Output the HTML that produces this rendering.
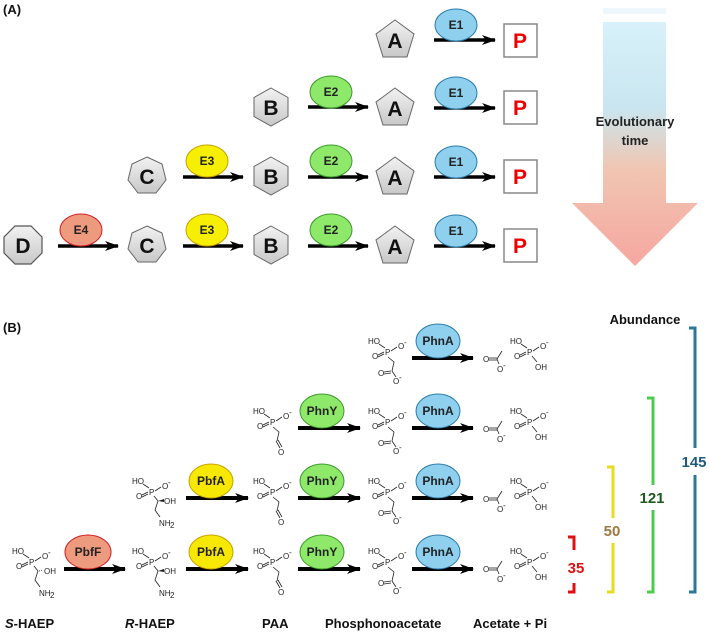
<!DOCTYPE html>
<html><head><meta charset="utf-8"><style>
html,body{margin:0;padding:0;background:#fff;}
svg{display:block;font-family:"Liberation Sans",sans-serif;}
.m text{font-size:8px;fill:#222;}
.m line,.m polyline{stroke:#222;stroke-width:0.8;fill:none;}
.lbl{font-weight:bold;font-size:13px;fill:#111;}
.enz{font-weight:bold;font-size:12px;fill:#222;text-anchor:middle;}
.shp{font-weight:bold;font-size:21px;fill:#111;text-anchor:middle;}
</style></head><body>
<svg width="709" height="636" viewBox="0 0 709 636" xmlns="http://www.w3.org/2000/svg">
<defs>
<linearGradient id="tg" x1="0" y1="0" x2="0" y2="1">
<stop offset="0" stop-color="#d8f1fa"/><stop offset="0.35" stop-color="#c9e6f0"/><stop offset="0.6" stop-color="#f0c6b2"/><stop offset="1" stop-color="#f6a6a0"/>
</linearGradient>
<linearGradient id="gs" x1="0" y1="0" x2="0" y2="1"><stop offset="0" stop-color="#f2f2f2"/><stop offset="1" stop-color="#c8c8c8"/></linearGradient>
<marker id="ah" markerWidth="14" markerHeight="10" refX="13" refY="5" orient="auto" markerUnits="userSpaceOnUse"><path d="M0,0 L14,5 L0,10 L4,5 Z" fill="#000"/></marker>
</defs>
<text x="3" y="14" class="lbl" font-size="12">(A)</text>
<text x="3" y="332" class="lbl" font-size="12">(B)</text>

<rect x="603" y="8" width="63" height="6" fill="#eef8fc"/>
<path d="M603,22 L666,22 L666,203 L698,203 L635,266 L572,203 L603,203 Z" fill="url(#tg)"/>
<text x="635" y="126" text-anchor="middle" font-size="13" font-weight="bold" fill="#222">Evolutionary</text>
<text x="635" y="145" text-anchor="middle" font-size="13" font-weight="bold" fill="#222">time</text>

<g>
<polygon points="395,20 414,34 407,57 383,57 376,34" fill="url(#gs)" stroke="#666"/><text x="395" y="48" class="shp">A</text>
<line x1="434" y1="40" x2="495" y2="40" stroke="#000" stroke-width="3.5" marker-end="url(#ah)"/>
<ellipse cx="456" cy="25" rx="21" ry="16" fill="#8fd0ee" stroke="#2a7aa8"/><text x="456" y="29" class="enz">E1</text>
<rect x="504" y="24" width="33" height="33" fill="#fff" stroke="#888" stroke-width="1.5"/><text x="520" y="48" class="shp" style="fill:#e00">P</text>

<polygon points="271,88 288,97.5 288,116.5 271,126 254,116.5 254,97.5" fill="url(#gs)" stroke="#666"/><text x="271" y="115" class="shp">B</text>
<line x1="308" y1="107" x2="368" y2="107" stroke="#000" stroke-width="3.5" marker-end="url(#ah)"/>
<ellipse cx="331" cy="92" rx="21" ry="16" fill="#8ee86a" stroke="#3a9a2a"/><text x="331" y="96" class="enz">E2</text>
<polygon points="395,88 414,102 407,125 383,125 376,102" fill="url(#gs)" stroke="#666"/><text x="395" y="116" class="shp">A</text>
<line x1="434" y1="108" x2="495" y2="108" stroke="#000" stroke-width="3.5" marker-end="url(#ah)"/>
<ellipse cx="456" cy="93" rx="21" ry="16" fill="#8fd0ee" stroke="#2a7aa8"/><text x="456" y="97" class="enz">E1</text>
<rect x="504" y="91" width="33" height="33" fill="#fff" stroke="#888" stroke-width="1.5"/><text x="520" y="115" class="shp" style="fill:#e00">P</text>

<polygon points="147,157 162,164 166,180 156,193 138,193 128,180 132,164" fill="url(#gs)" stroke="#666"/><text x="147" y="184" class="shp">C</text>
<line x1="183" y1="177" x2="243" y2="177" stroke="#000" stroke-width="3.5" marker-end="url(#ah)"/>
<ellipse cx="207" cy="161" rx="21" ry="16" fill="#f6f000" stroke="#c8a000"/><text x="207" y="165" class="enz">E3</text>
<polygon points="271,157 288,166.5 288,185.5 271,195 254,185.5 254,166.5" fill="url(#gs)" stroke="#666"/><text x="271" y="184" class="shp">B</text>
<line x1="308" y1="177" x2="368" y2="177" stroke="#000" stroke-width="3.5" marker-end="url(#ah)"/>
<ellipse cx="331" cy="161" rx="21" ry="16" fill="#8ee86a" stroke="#3a9a2a"/><text x="331" y="165" class="enz">E2</text>
<polygon points="395,157 414,171 407,194 383,194 376,171" fill="url(#gs)" stroke="#666"/><text x="395" y="185" class="shp">A</text>
<line x1="434" y1="177" x2="495" y2="177" stroke="#000" stroke-width="3.5" marker-end="url(#ah)"/>
<ellipse cx="456" cy="162" rx="21" ry="16" fill="#8fd0ee" stroke="#2a7aa8"/><text x="456" y="166" class="enz">E1</text>
<rect x="504" y="160" width="33" height="33" fill="#fff" stroke="#888" stroke-width="1.5"/><text x="520" y="184" class="shp" style="fill:#e00">P</text>

<polygon points="15,226 31,226 42,237 42,253 31,264 15,264 4,253 4,237" fill="url(#gs)" stroke="#555" stroke-width="1.2"/><text x="23" y="253" class="shp">D</text>
<line x1="58" y1="246" x2="118" y2="246" stroke="#000" stroke-width="3.5" marker-end="url(#ah)"/>
<ellipse cx="81" cy="230" rx="21" ry="16" fill="#ee9a7e" stroke="#d02020"/><text x="81" y="234" class="enz">E4</text>
<polygon points="147,226 162,233 166,249 156,262 138,262 128,249 132,233" fill="url(#gs)" stroke="#666"/><text x="147" y="253" class="shp">C</text>
<line x1="183" y1="246" x2="243" y2="246" stroke="#000" stroke-width="3.5" marker-end="url(#ah)"/>
<ellipse cx="207" cy="230" rx="21" ry="16" fill="#f6f000" stroke="#c8a000"/><text x="207" y="234" class="enz">E3</text>
<polygon points="271,226 288,235.5 288,254.5 271,264 254,254.5 254,235.5" fill="url(#gs)" stroke="#666"/><text x="271" y="253" class="shp">B</text>
<line x1="308" y1="246" x2="368" y2="246" stroke="#000" stroke-width="3.5" marker-end="url(#ah)"/>
<ellipse cx="331" cy="230" rx="21" ry="16" fill="#8ee86a" stroke="#3a9a2a"/><text x="331" y="234" class="enz">E2</text>
<polygon points="395,226 414,240 407,263 383,263 376,240" fill="url(#gs)" stroke="#666"/><text x="395" y="254" class="shp">A</text>
<line x1="434" y1="246" x2="495" y2="246" stroke="#000" stroke-width="3.5" marker-end="url(#ah)"/>
<ellipse cx="456" cy="231" rx="21" ry="16" fill="#8fd0ee" stroke="#2a7aa8"/><text x="456" y="235" class="enz">E1</text>
<rect x="504" y="229" width="33" height="33" fill="#fff" stroke="#888" stroke-width="1.5"/><text x="520" y="253" class="shp" style="fill:#e00">P</text>
</g>

<g>
<line x1="412" y1="358" x2="473" y2="358" stroke="#000" stroke-width="4" marker-end="url(#ah)"/>
<ellipse cx="438" cy="341" rx="22" ry="17" fill="#8fd0ee" stroke="#2a7aa8"/><text x="438" y="345" class="enz">PhnA</text>
<line x1="412" y1="428" x2="473" y2="428" stroke="#000" stroke-width="4" marker-end="url(#ah)"/>
<ellipse cx="438" cy="411" rx="22" ry="17" fill="#8fd0ee" stroke="#2a7aa8"/><text x="438" y="415" class="enz">PhnA</text>
<line x1="412" y1="498" x2="473" y2="498" stroke="#000" stroke-width="4" marker-end="url(#ah)"/>
<ellipse cx="438" cy="481" rx="22" ry="17" fill="#8fd0ee" stroke="#2a7aa8"/><text x="438" y="485" class="enz">PhnA</text>
<line x1="412" y1="569" x2="473" y2="569" stroke="#000" stroke-width="4" marker-end="url(#ah)"/>
<ellipse cx="438" cy="552" rx="22" ry="17" fill="#8fd0ee" stroke="#2a7aa8"/><text x="438" y="556" class="enz">PhnA</text>

<line x1="298" y1="428" x2="360" y2="428" stroke="#000" stroke-width="4" marker-end="url(#ah)"/>
<ellipse cx="322" cy="411" rx="22" ry="17" fill="#8ee86a" stroke="#3a9a2a"/><text x="322" y="415" class="enz">PhnY</text>
<line x1="298" y1="498" x2="360" y2="498" stroke="#000" stroke-width="4" marker-end="url(#ah)"/>
<ellipse cx="322" cy="481" rx="22" ry="17" fill="#8ee86a" stroke="#3a9a2a"/><text x="322" y="485" class="enz">PhnY</text>
<line x1="298" y1="569" x2="360" y2="569" stroke="#000" stroke-width="4" marker-end="url(#ah)"/>
<ellipse cx="322" cy="552" rx="22" ry="17" fill="#8ee86a" stroke="#3a9a2a"/><text x="322" y="556" class="enz">PhnY</text>

<line x1="186" y1="498" x2="248" y2="498" stroke="#000" stroke-width="4" marker-end="url(#ah)"/>
<ellipse cx="211" cy="481" rx="22" ry="17" fill="#f6e800" stroke="#c8a000"/><text x="211" y="485" class="enz">PbfA</text>
<line x1="186" y1="569" x2="248" y2="569" stroke="#000" stroke-width="4" marker-end="url(#ah)"/>
<ellipse cx="211" cy="552" rx="22" ry="17" fill="#f6e800" stroke="#c8a000"/><text x="211" y="556" class="enz">PbfA</text>

<line x1="64" y1="569" x2="125" y2="569" stroke="#000" stroke-width="4" marker-end="url(#ah)"/>
<ellipse cx="88" cy="552" rx="23" ry="17" fill="#ee9a7e" stroke="#d02020"/><text x="88" y="556" class="enz">PbfF</text>
</g>

<g class="m" transform="translate(388,352)">
<text x="-20" y="-8">HO</text><line x1="-9" y1="-8" x2="-3" y2="-4"/>
<text x="-3" y="3">P</text>
<line x1="3" y1="-1" x2="9" y2="-5"/><text x="10" y="-3">O</text><text x="16" y="-7" font-size="6">-</text>
<line x1="-4" y1="0" x2="-10" y2="3"/><line x1="-4" y1="2" x2="-10" y2="5"/><text x="-16" y="7">O</text>
<polyline points="0,5 6,10 4,19"/>
<line x1="3" y1="19" x2="-4" y2="20"/><line x1="3" y1="21" x2="-4" y2="22"/><text x="-10" y="24">O</text>
<line x1="4" y1="19" x2="8" y2="25"/><text x="5" y="32">O</text><text x="11" y="28" font-size="6">-</text>
</g>
<g class="m" transform="translate(388,422)">
<text x="-20" y="-8">HO</text><line x1="-9" y1="-8" x2="-3" y2="-4"/>
<text x="-3" y="3">P</text>
<line x1="3" y1="-1" x2="9" y2="-5"/><text x="10" y="-3">O</text><text x="16" y="-7" font-size="6">-</text>
<line x1="-4" y1="0" x2="-10" y2="3"/><line x1="-4" y1="2" x2="-10" y2="5"/><text x="-16" y="7">O</text>
<polyline points="0,5 6,10 4,19"/>
<line x1="3" y1="19" x2="-4" y2="20"/><line x1="3" y1="21" x2="-4" y2="22"/><text x="-10" y="24">O</text>
<line x1="4" y1="19" x2="8" y2="25"/><text x="5" y="32">O</text><text x="11" y="28" font-size="6">-</text>
</g>
<g class="m" transform="translate(388,492)">
<text x="-20" y="-8">HO</text><line x1="-9" y1="-8" x2="-3" y2="-4"/>
<text x="-3" y="3">P</text>
<line x1="3" y1="-1" x2="9" y2="-5"/><text x="10" y="-3">O</text><text x="16" y="-7" font-size="6">-</text>
<line x1="-4" y1="0" x2="-10" y2="3"/><line x1="-4" y1="2" x2="-10" y2="5"/><text x="-16" y="7">O</text>
<polyline points="0,5 6,10 4,19"/>
<line x1="3" y1="19" x2="-4" y2="20"/><line x1="3" y1="21" x2="-4" y2="22"/><text x="-10" y="24">O</text>
<line x1="4" y1="19" x2="8" y2="25"/><text x="5" y="32">O</text><text x="11" y="28" font-size="6">-</text>
</g>
<g class="m" transform="translate(388,562)">
<text x="-20" y="-8">HO</text><line x1="-9" y1="-8" x2="-3" y2="-4"/>
<text x="-3" y="3">P</text>
<line x1="3" y1="-1" x2="9" y2="-5"/><text x="10" y="-3">O</text><text x="16" y="-7" font-size="6">-</text>
<line x1="-4" y1="0" x2="-10" y2="3"/><line x1="-4" y1="2" x2="-10" y2="5"/><text x="-16" y="7">O</text>
<polyline points="0,5 6,10 4,19"/>
<line x1="3" y1="19" x2="-4" y2="20"/><line x1="3" y1="21" x2="-4" y2="22"/><text x="-10" y="24">O</text>
<line x1="4" y1="19" x2="8" y2="25"/><text x="5" y="32">O</text><text x="11" y="28" font-size="6">-</text>
</g>

<g class="m" transform="translate(273,422)">
<text x="-20" y="-8">HO</text><line x1="-9" y1="-8" x2="-3" y2="-4"/>
<text x="-3" y="3">P</text>
<line x1="3" y1="-1" x2="9" y2="-5"/><text x="10" y="-3">O</text><text x="16" y="-7" font-size="6">-</text>
<line x1="-4" y1="0" x2="-10" y2="3"/><line x1="-4" y1="2" x2="-10" y2="5"/><text x="-16" y="7">O</text>
<polyline points="0,5 6,10 4,19"/>
<line x1="3" y1="19" x2="7" y2="26"/><line x1="5" y1="18" x2="9" y2="25"/><text x="5" y="33">O</text>
</g>
<g class="m" transform="translate(273,492)">
<text x="-20" y="-8">HO</text><line x1="-9" y1="-8" x2="-3" y2="-4"/>
<text x="-3" y="3">P</text>
<line x1="3" y1="-1" x2="9" y2="-5"/><text x="10" y="-3">O</text><text x="16" y="-7" font-size="6">-</text>
<line x1="-4" y1="0" x2="-10" y2="3"/><line x1="-4" y1="2" x2="-10" y2="5"/><text x="-16" y="7">O</text>
<polyline points="0,5 6,10 4,19"/>
<line x1="3" y1="19" x2="7" y2="26"/><line x1="5" y1="18" x2="9" y2="25"/><text x="5" y="33">O</text>
</g>
<g class="m" transform="translate(273,562)">
<text x="-20" y="-8">HO</text><line x1="-9" y1="-8" x2="-3" y2="-4"/>
<text x="-3" y="3">P</text>
<line x1="3" y1="-1" x2="9" y2="-5"/><text x="10" y="-3">O</text><text x="16" y="-7" font-size="6">-</text>
<line x1="-4" y1="0" x2="-10" y2="3"/><line x1="-4" y1="2" x2="-10" y2="5"/><text x="-16" y="7">O</text>
<polyline points="0,5 6,10 4,19"/>
<line x1="3" y1="19" x2="7" y2="26"/><line x1="5" y1="18" x2="9" y2="25"/><text x="5" y="33">O</text>
</g>

<g class="m" transform="translate(32,562)">
<text x="-20" y="-8">HO</text><line x1="-9" y1="-8" x2="-3" y2="-4"/>
<text x="-3" y="3">P</text>
<line x1="3" y1="-1" x2="9" y2="-5"/><text x="10" y="-3">O</text><text x="16" y="-7" font-size="6">-</text>
<line x1="-4" y1="0" x2="-10" y2="3"/><line x1="-4" y1="2" x2="-10" y2="5"/><text x="-16" y="7">O</text>
<line x1="2" y1="4" x2="6" y2="9"/><line x1="7" y1="9" x2="11" y2="8" stroke-dasharray="1,1"/><text x="12" y="12">OH</text>
<polyline points="6,9 3,18 8,25"/><text x="7" y="34">NH</text><text x="18" y="36" font-size="5">2</text>
</g>
<g class="m" transform="translate(152,562)">
<text x="-20" y="-8">HO</text><line x1="-9" y1="-8" x2="-3" y2="-4"/>
<text x="-3" y="3">P</text>
<line x1="3" y1="-1" x2="9" y2="-5"/><text x="10" y="-3">O</text><text x="16" y="-7" font-size="6">-</text>
<line x1="-4" y1="0" x2="-10" y2="3"/><line x1="-4" y1="2" x2="-10" y2="5"/><text x="-16" y="7">O</text>
<line x1="2" y1="4" x2="6" y2="9"/><polygon points="6,9 12,7 12,10" fill="#222"/><text x="12" y="12">OH</text>
<polyline points="6,9 3,18 8,25"/><text x="7" y="34">NH</text><text x="18" y="36" font-size="5">2</text>
</g>
<g class="m" transform="translate(152,492)">
<text x="-20" y="-8">HO</text><line x1="-9" y1="-8" x2="-3" y2="-4"/>
<text x="-3" y="3">P</text>
<line x1="3" y1="-1" x2="9" y2="-5"/><text x="10" y="-3">O</text><text x="16" y="-7" font-size="6">-</text>
<line x1="-4" y1="0" x2="-10" y2="3"/><line x1="-4" y1="2" x2="-10" y2="5"/><text x="-16" y="7">O</text>
<line x1="2" y1="4" x2="6" y2="9"/><polygon points="6,9 12,7 12,10" fill="#222"/><text x="12" y="12">OH</text>
<polyline points="6,9 3,18 8,25"/><text x="7" y="34">NH</text><text x="18" y="36" font-size="5">2</text>
</g>

<g class="m" transform="translate(497,357)">
<text x="-14" y="5">O</text><line x1="-8" y1="1" x2="0" y2="1"/><line x1="-8" y1="3" x2="0" y2="3"/>
<line x1="0" y1="2" x2="5" y2="-6"/><line x1="0" y1="2" x2="2" y2="7"/><text x="0" y="15">O</text><text x="6" y="11" font-size="6">-</text>
</g>
<g class="m" transform="translate(530,352)">
<text x="-20" y="-8">HO</text><line x1="-9" y1="-8" x2="-3" y2="-4"/>
<text x="-3" y="3">P</text>
<line x1="3" y1="-1" x2="9" y2="-5"/><text x="10" y="-3">O</text><text x="16" y="-7" font-size="6">-</text>
<line x1="-4" y1="0" x2="-10" y2="3"/><line x1="-4" y1="2" x2="-10" y2="5"/><text x="-16" y="7">O</text>
<line x1="2" y1="4" x2="7" y2="10"/><text x="5" y="18">OH</text>
</g>
<g class="m" transform="translate(497,427)">
<text x="-14" y="5">O</text><line x1="-8" y1="1" x2="0" y2="1"/><line x1="-8" y1="3" x2="0" y2="3"/>
<line x1="0" y1="2" x2="5" y2="-6"/><line x1="0" y1="2" x2="2" y2="7"/><text x="0" y="15">O</text><text x="6" y="11" font-size="6">-</text>
</g>
<g class="m" transform="translate(530,422)">
<text x="-20" y="-8">HO</text><line x1="-9" y1="-8" x2="-3" y2="-4"/>
<text x="-3" y="3">P</text>
<line x1="3" y1="-1" x2="9" y2="-5"/><text x="10" y="-3">O</text><text x="16" y="-7" font-size="6">-</text>
<line x1="-4" y1="0" x2="-10" y2="3"/><line x1="-4" y1="2" x2="-10" y2="5"/><text x="-16" y="7">O</text>
<line x1="2" y1="4" x2="7" y2="10"/><text x="5" y="18">OH</text>
</g>
<g class="m" transform="translate(497,497)">
<text x="-14" y="5">O</text><line x1="-8" y1="1" x2="0" y2="1"/><line x1="-8" y1="3" x2="0" y2="3"/>
<line x1="0" y1="2" x2="5" y2="-6"/><line x1="0" y1="2" x2="2" y2="7"/><text x="0" y="15">O</text><text x="6" y="11" font-size="6">-</text>
</g>
<g class="m" transform="translate(530,492)">
<text x="-20" y="-8">HO</text><line x1="-9" y1="-8" x2="-3" y2="-4"/>
<text x="-3" y="3">P</text>
<line x1="3" y1="-1" x2="9" y2="-5"/><text x="10" y="-3">O</text><text x="16" y="-7" font-size="6">-</text>
<line x1="-4" y1="0" x2="-10" y2="3"/><line x1="-4" y1="2" x2="-10" y2="5"/><text x="-16" y="7">O</text>
<line x1="2" y1="4" x2="7" y2="10"/><text x="5" y="18">OH</text>
</g>
<g class="m" transform="translate(497,567)">
<text x="-14" y="5">O</text><line x1="-8" y1="1" x2="0" y2="1"/><line x1="-8" y1="3" x2="0" y2="3"/>
<line x1="0" y1="2" x2="5" y2="-6"/><line x1="0" y1="2" x2="2" y2="7"/><text x="0" y="15">O</text><text x="6" y="11" font-size="6">-</text>
</g>
<g class="m" transform="translate(530,562)">
<text x="-20" y="-8">HO</text><line x1="-9" y1="-8" x2="-3" y2="-4"/>
<text x="-3" y="3">P</text>
<line x1="3" y1="-1" x2="9" y2="-5"/><text x="10" y="-3">O</text><text x="16" y="-7" font-size="6">-</text>
<line x1="-4" y1="0" x2="-10" y2="3"/><line x1="-4" y1="2" x2="-10" y2="5"/><text x="-16" y="7">O</text>
<line x1="2" y1="4" x2="7" y2="10"/><text x="5" y="18">OH</text>
</g>

<text x="645" y="324" text-anchor="middle" font-size="13" font-weight="bold" fill="#111">Abundance</text>
<path d="M568,537 L574,537 L574,550 M574,583 L574,592 L568,592" stroke="#e01010" stroke-width="3" fill="none"/>
<text x="576" y="573" text-anchor="middle" font-size="15" font-weight="bold" fill="#e01010">35</text>
<path d="M607,467 L613,467 L613,518 M613,543 L613,592 L607,592" stroke="#e6dc20" stroke-width="3" fill="none"/>
<text x="612" y="536" text-anchor="middle" font-size="15" font-weight="bold" fill="#a07840">50</text>
<path d="M647,398 L653,398 L653,485 M653,510 L653,592 L647,592" stroke="#4ccc4c" stroke-width="3" fill="none"/>
<text x="652" y="503" text-anchor="middle" font-size="15" font-weight="bold" fill="#1f5a1f">121</text>
<path d="M689,328 L695,328 L695,448 M695,475 L695,592 L689,592" stroke="#2878a0" stroke-width="3" fill="none"/>
<text x="694" y="467" text-anchor="middle" font-size="15" font-weight="bold" fill="#1f5a80">145</text>

<text x="5" y="628" class="lbl"><tspan font-style="italic">S</tspan>-HAEP</text>
<text x="125" y="628" class="lbl"><tspan font-style="italic">R</tspan>-HAEP</text>
<text x="262" y="628" class="lbl">PAA</text>
<text x="325" y="628" class="lbl">Phosphonoacetate</text>
<text x="473" y="628" class="lbl">Acetate + Pi</text>
</svg>
</body></html>
